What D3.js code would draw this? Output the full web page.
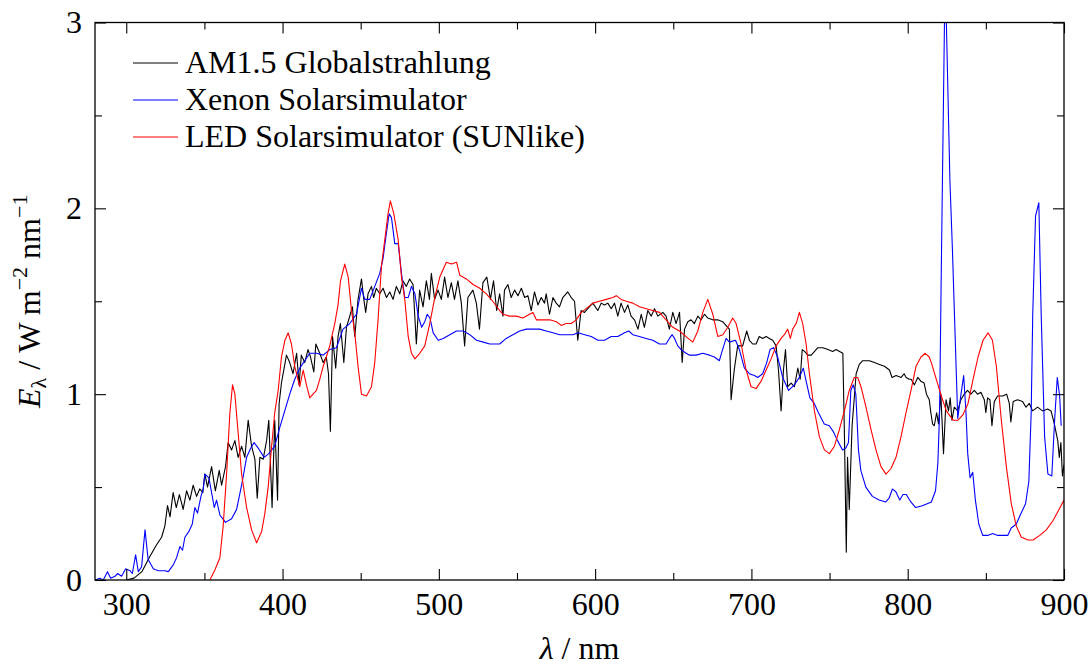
<!DOCTYPE html>
<html>
<head>
<meta charset="utf-8">
<script src="https://cdn.jsdelivr.net/npm/d3@7"></script>
<style>
  body { margin: 0; background: #fff; }
  text { font-family: "Liberation Serif", "Times New Roman", serif; fill: #000; }
</style>
</head>
<body>
<svg id="chart" width="1091" height="666"></svg>
<script>
// wavelength (nm), spectral irradiance (W m^-2 nm^-1)
var am15 = [[300,0],[305,0.01],[310,0.045],[315,0.125],[319.4,0.19],[322.6,0.23],[324.7,0.29],[326.4,0.40],[328,0.34],[330,0.47],[332,0.39],[334,0.46],[336.4,0.38],[338.6,0.48],[340.7,0.43],[342.8,0.51],[345,0.45],[347,0.49],[349,0.47],[350.3,0.57],[352,0.50],[354.6,0.61],[357,0.48],[359.5,0.59],[361,0.51],[363.5,0.61],[365.2,0.74],[367.4,0.70],[369.5,0.75],[371.6,0.66],[373.8,0.72],[375.9,0.66],[378,0.86],[380.2,0.72],[382.3,0.65],[383.8,0.44],[385.5,0.66],[387.6,0.65],[389.8,0.75],[391.2,0.86],[393.3,0.39],[395,0.86],[396.8,0.43],[397.8,0.95],[399.3,1.06],[402.5,1.21],[404.6,1.17],[406.7,1.11],[409,1.22],[410.6,1.05],[412,1.21],[414.2,1.17],[416.3,1.24],[417.9,1.20],[420,1.12],[421.3,1.27],[423.8,1.22],[426,1.17],[428,1.20],[429.4,1.11],[430.6,0.80],[432,1.31],[434,1.14],[435.5,1.31],[437,1.38],[439.2,1.17],[440.9,1.36],[443,1.42],[444.7,1.47],[446.2,1.31],[448.3,1.51],[450.5,1.62],[452,1.51],[453.2,1.44],[454.7,1.54],[456.9,1.58],[458.3,1.52],[460,1.57],[462.2,1.54],[464.3,1.57],[466.5,1.52],[468.6,1.55],[470.7,1.51],[472.8,1.58],[475,1.54],[477,1.61],[479.2,1.58],[481.3,1.62],[483.5,1.59],[485.6,1.27],[487.7,1.56],[489.9,1.47],[492,1.61],[494,1.51],[495.2,1.65],[497.3,1.51],[499.5,1.56],[501.6,1.51],[503.7,1.63],[505.8,1.52],[508,1.60],[510,1.51],[512.2,1.61],[514.4,1.49],[516.5,1.26],[518.6,1.52],[521.8,1.56],[524,1.49],[526,1.35],[528.2,1.60],[530.7,1.63],[533,1.51],[535,1.61],[537,1.45],[538.9,1.54],[541,1.42],[542,1.56],[544.2,1.59],[546.3,1.52],[548.5,1.56],[550.6,1.53],[552.8,1.57],[554.9,1.52],[557,1.53],[559.1,1.45],[561.2,1.55],[563.4,1.48],[565.5,1.52],[567.6,1.49],[568.7,1.54],[570.8,1.43],[573,1.52],[575.1,1.49],[577.2,1.47],[579.3,1.52],[582.5,1.55],[584.7,1.52],[586.8,1.50],[588.9,1.29],[591,1.45],[593.2,1.44],[595.3,1.46],[598.5,1.49],[601.7,1.45],[603.9,1.49],[606,1.48],[608.1,1.49],[610.3,1.46],[612.4,1.49],[614.5,1.42],[616.6,1.49],[618.8,1.44],[620.9,1.48],[623,1.42],[625.2,1.40],[627.4,1.35],[629.5,1.43],[631.5,1.36],[633.7,1.45],[635.9,1.42],[638,1.46],[640.1,1.42],[643.3,1.44],[645.4,1.42],[647.5,1.35],[649.7,1.44],[651.8,1.38],[654,1.44],[655.7,1.17],[657.2,1.35],[659.3,1.39],[661.4,1.40],[663.5,1.38],[665.7,1.42],[667.8,1.40],[670,1.43],[672,1.41],[675.2,1.40],[678.4,1.40],[681.6,1.39],[684.8,1.36],[685.9,1.35],[687,0.97],[689,1.13],[691.2,1.26],[694.4,1.26],[697,1.34],[698.7,1.29],[700.8,1.27],[703,1.27],[705,1.31],[707.2,1.30],[709.4,1.31],[711.5,1.30],[713.6,1.29],[715.8,1.26],[717.3,1.13],[719,0.91],[720.5,1.13],[721.8,1.24],[723.2,1.04],[725.4,1.06],[727.5,1.04],[729.7,1.14],[731.2,1.08],[732.5,1.24],[734,1.23],[736.1,1.21],[738.3,1.21],[740.4,1.23],[742.5,1.25],[745.7,1.25],[748.9,1.24],[752,1.23],[754.2,1.24],[756.4,1.23],[758.5,1.22],[759.6,0.74],[760.7,0.15],[761.5,0.66],[762.6,0.38],[764.4,0.83],[765.9,0.99],[767,1.11],[769,1.16],[771.2,1.18],[775.5,1.18],[778.7,1.17],[781.9,1.16],[785.1,1.15],[788.3,1.13],[790,1.09],[792.6,1.10],[795.8,1.09],[797.7,1.11],[799,1.09],[800.9,1.08],[802.2,1.08],[804.3,1.05],[806.4,1.09],[808.4,1.07],[810.5,1.06],[812,1.00],[813.8,0.97],[814.8,0.90],[815.9,0.84],[817,0.83],[818.5,0.90],[819.7,0.84],[821.2,1.00],[822.9,0.68],[824.5,0.97],[826.1,0.91],[827.2,0.98],[828.3,0.86],[829.8,0.93],[832,0.91],[834,0.97],[836.1,1.00],[838.3,1.02],[840.4,1.00],[842.6,1.02],[844.7,1.00],[846.8,1.01],[849,0.97],[850,0.90],[851.1,0.98],[852.6,0.97],[853.9,0.83],[855.4,0.96],[857.5,0.99],[860.7,0.99],[863.3,1.00],[865,0.95],[866,0.85],[867.5,0.96],[870.3,0.97],[873.5,0.96],[875.7,0.93],[877.8,0.95],[879.9,0.91],[883.1,0.93],[886.3,0.91],[889.5,0.92],[891.7,0.91],[893.8,0.84],[896,0.75],[897,0.66],[898,0.74],[899,0.56],[900,0.62]];

var xenon = [[280,0],[283,0.01],[285.3,0],[288,0.045],[290,0.01],[292.8,0.02],[294.5,0.035],[297,0.02],[299.6,0.06],[302.4,0.05],[303.9,0.035],[306,0.135],[307.7,0.045],[309.8,0.07],[312,0.27],[314,0.11],[317.3,0.06],[320.5,0.05],[324.7,0.05],[326.9,0.045],[330,0.08],[332.2,0.12],[334.3,0.18],[336,0.16],[337.5,0.23],[340,0.26],[342.2,0.30],[343.9,0.39],[345.6,0.36],[347.8,0.45],[349.2,0.49],[350.3,0.57],[352.9,0.55],[354.6,0.47],[356.3,0.39],[357.8,0.43],[359.9,0.35],[363.5,0.31],[367.4,0.33],[370.6,0.38],[373.8,0.51],[377,0.66],[379.7,0.71],[381.8,0.74],[384.4,0.71],[388.2,0.66],[391.2,0.68],[395,0.72],[398.2,0.82],[401.4,0.91],[404.6,1.00],[407.8,1.08],[411,1.14],[414.2,1.18],[417.4,1.22],[421.7,1.22],[426,1.21],[430.2,1.24],[434.5,1.25],[438.7,1.35],[443,1.38],[447.3,1.43],[450.5,1.57],[452.6,1.51],[455.8,1.51],[459,1.58],[462.2,1.65],[464.3,1.73],[466.5,1.87],[468.2,1.97],[469.7,1.95],[471.8,1.81],[474,1.81],[476.1,1.65],[478.2,1.52],[480.4,1.52],[482.5,1.58],[484.7,1.54],[486.8,1.42],[489,1.36],[491,1.39],[492.6,1.43],[494.3,1.41],[496.4,1.33],[499.6,1.29],[502.8,1.30],[507,1.32],[511.3,1.34],[515.6,1.34],[519.8,1.32],[524.1,1.29],[528.4,1.28],[532.6,1.27],[538.9,1.27],[543.1,1.30],[547.4,1.32],[551.7,1.34],[556,1.35],[560.2,1.35],[564.5,1.35],[568.8,1.34],[573,1.33],[577.3,1.32],[581.5,1.32],[585.8,1.32],[589,1.33],[593.3,1.32],[597.5,1.31],[601.8,1.29],[606,1.29],[610.3,1.31],[614.5,1.31],[618.8,1.33],[621.5,1.34],[624.1,1.32],[628.3,1.31],[632.6,1.30],[636.9,1.29],[641.1,1.27],[645.4,1.27],[647.5,1.30],[649.3,1.32],[650.8,1.30],[652.9,1.26],[655,1.24],[658.2,1.22],[660.4,1.21],[664.6,1.21],[668.9,1.22],[673.2,1.21],[676.3,1.20],[679.5,1.18],[681.2,1.23],[683.8,1.30],[685.9,1.28],[689.8,1.29],[692.3,1.24],[695.5,1.14],[698.7,1.11],[701.9,1.10],[704,1.09],[707.2,1.11],[709.8,1.17],[711.9,1.24],[714.2,1.25],[716.8,1.20],[720,1.09],[723.8,1.02],[727.5,1.05],[730.6,1.09],[733.2,1.14],[735.3,1.06],[737.4,0.98],[740.2,0.95],[742.9,0.90],[746.6,0.84],[749.8,0.83],[752.3,0.80],[755.1,0.75],[758.3,0.70],[760.4,0.71],[762.1,0.74],[763.6,1.02],[765.1,1.05],[766.8,1.00],[768.5,0.70],[770,0.59],[773.2,0.50],[777.4,0.45],[781.7,0.43],[786,0.42],[788.1,0.44],[790.2,0.49],[792.4,0.475],[794.9,0.43],[797,0.46],[799.1,0.46],[802,0.42],[805.1,0.39],[809.4,0.40],[815.1,0.42],[817.8,0.48],[819.3,0.63],[820.4,0.90],[821.4,1.61],[823.6,3.05],[824.6,3.05],[827,2.15],[828.6,1.78],[832,0.87],[834.1,1.00],[835.8,1.10],[837.3,0.90],[838.4,0.68],[839.9,0.55],[841.6,0.58],[843.3,0.43],[845.5,0.30],[848,0.24],[851.2,0.24],[854.4,0.25],[857.6,0.24],[860.8,0.24],[864,0.24],[866.2,0.28],[869.4,0.30],[872.6,0.36],[875.4,0.41],[877.5,0.53],[879,0.90],[880,1.43],[881.8,1.96],[883.9,2.03],[885.4,1.43],[887.6,0.77],[889.7,0.57],[892.2,0.56],[894,0.86],[895.7,1.09],[897.2,0.99],[898.2,0.83]];

var led = [[353.5,0],[356.7,0.054],[359.9,0.12],[362,0.29],[364.2,0.57],[366.3,0.90],[368,1.05],[369.5,1.00],[371.2,0.83],[373.8,0.57],[377,0.39],[380.2,0.27],[383.4,0.20],[386.6,0.26],[388.7,0.36],[390.8,0.50],[393,0.72],[395,0.90],[397.2,1.02],[399.3,1.20],[401.5,1.29],[403.6,1.33],[405.7,1.27],[407.8,1.15],[411,1.04],[413.2,1.13],[415.3,1.05],[417.4,0.98],[419.5,1.00],[421.7,1.02],[423.8,1.08],[426,1.15],[428,1.20],[430.2,1.26],[433.4,1.38],[435.5,1.48],[437.1,1.61],[439.8,1.70],[442,1.63],[444.1,1.45],[446.2,1.33],[448.3,1.15],[450.5,1.00],[453.7,0.99],[456.9,1.04],[459,1.17],[461.1,1.40],[463.3,1.69],[465.4,1.83],[467.5,1.97],[469,2.04],[471.2,1.97],[474,1.83],[476.1,1.63],[478.2,1.51],[480.4,1.31],[482.5,1.22],[484.7,1.19],[487.8,1.22],[491,1.26],[494.2,1.38],[497.4,1.52],[500.6,1.63],[504.8,1.71],[508,1.70],[511.3,1.71],[513.4,1.64],[517.6,1.62],[521.9,1.59],[526.2,1.57],[530.4,1.54],[534.5,1.50],[538.9,1.45],[541,1.43],[545.3,1.42],[549.6,1.42],[553.8,1.41],[558.1,1.43],[560.2,1.44],[562.4,1.40],[566.6,1.40],[570.9,1.40],[575.2,1.39],[578.3,1.37],[581.5,1.38],[584.7,1.38],[587.9,1.40],[591.1,1.44],[594.3,1.46],[598.5,1.49],[602.8,1.50],[607.1,1.51],[611.3,1.52],[613.5,1.53],[616.7,1.51],[619.9,1.50],[624.1,1.49],[628.4,1.47],[632.7,1.46],[636.9,1.45],[641.2,1.44],[645.4,1.40],[649.7,1.36],[654,1.34],[658.2,1.31],[662.5,1.28],[665.7,1.34],[668.9,1.44],[672.1,1.51],[675.3,1.43],[678.5,1.31],[681.7,1.32],[684.9,1.36],[688,1.41],[690.2,1.38],[693.4,1.27],[696.6,1.13],[699.8,1.04],[703,1.03],[706.2,1.07],[709.4,1.13],[712.6,1.19],[715.8,1.26],[719,1.30],[721.1,1.32],[723.2,1.35],[724.9,1.30],[726.4,1.35],[728.6,1.38],[730.7,1.44],[732.8,1.38],[735,1.27],[737.1,1.11],[740.3,0.91],[743.5,0.77],[746.7,0.70],[749.9,0.68],[753.1,0.72],[756.3,0.81],[759.5,0.91],[762.6,1.02],[765.8,1.09],[768,1.09],[770.1,1.04],[773.3,0.93],[776.5,0.81],[779.7,0.70],[782.9,0.61],[786.1,0.57],[789.3,0.60],[792.5,0.66],[795.7,0.77],[798.9,0.90],[802.1,1.02],[805.3,1.15],[808.5,1.20],[811.2,1.22],[813.8,1.20],[815.1,1.17],[818.3,1.08],[821.5,0.99],[824.7,0.91],[829,0.86],[832.2,0.86],[835.4,0.89],[838.6,0.95],[841.8,1.08],[845,1.20],[848.2,1.29],[851.4,1.33],[854.2,1.29],[856.7,1.15],[859.9,0.86],[863.1,0.61],[866.3,0.41],[869.5,0.29],[872.7,0.23],[877,0.215],[880.2,0.215],[884.5,0.24],[888.7,0.27],[893,0.32],[896.2,0.37],[900,0.43]];

var seriesNames = ["AM1.5 Globalstrahlung", "Xenon Solarsimulator", "LED Solarsimulator (SUNlike)"];
var seriesColors = ["#000000", "#0000ff", "#ff0000"];

var xMajor = [300,400,500,600,700,800,900];
var xMinor = [350,450,550,650,750,850];
var yMajor = [0,1,2,3];
var yMinor = [0.5,1.5,2.5];

const svg = d3.select("#chart");
var plotL = 95, plotR = 1064, plotT = 22.5, plotB = 580;
var fontSize = "32px";

var x = d3.scaleLinear().domain([280,900]).range([plotL,plotR]);
var y = d3.scaleLinear().domain([0,3]).range([plotB,plotT]);

svg.append("clipPath").attr("id","plotClip")
	.append("rect")
	.attr("x",plotL).attr("y",plotT)
	.attr("width",plotR-plotL).attr("height",plotB-plotT);

var line = d3.line()
	.x(function(d){return x(d[0]);})
	.y(function(d){return y(d[1]);});

var plot = svg.append("g").attr("clip-path","url(#plotClip)");
[am15, xenon, led].forEach(function(s,i){
	plot.append("path")
	.datum(s)
	.attr("d",line)
	.attr("fill","none")
	.attr("stroke",seriesColors[i])
	.attr("stroke-width",1.1)
	.attr("stroke-linejoin","round");
});

// axes, ticks pointing inwards on all four sides
function styleAxis(g){
	g.select(".domain").remove();
	g.selectAll(".tick line").attr("stroke","#000").attr("stroke-width",1.1);
	g.selectAll("text").style("font-size",fontSize).attr("fill","#000");
}

svg.append("g")
	.attr("transform","translate(0,"+plotB+")")
	.call(d3.axisBottom(x).tickValues(xMajor).tickSize(-11).tickPadding(12).tickFormat(d3.format("d")))
	.call(styleAxis);
svg.append("g")
	.attr("transform","translate(0,"+plotB+")")
	.call(d3.axisBottom(x).tickValues(xMinor).tickSize(-7).tickFormat(""))
	.call(styleAxis);
svg.append("g")
	.attr("transform","translate(0,"+plotT+")")
	.call(d3.axisTop(x).tickValues(xMajor).tickSize(-11).tickFormat(""))
	.call(styleAxis);
svg.append("g")
	.attr("transform","translate(0,"+plotT+")")
	.call(d3.axisTop(x).tickValues(xMinor).tickSize(-7).tickFormat(""))
	.call(styleAxis);

svg.append("g")
	.attr("transform","translate("+plotL+",0)")
	.call(d3.axisLeft(y).tickValues(yMajor).tickSize(-11).tickPadding(13).tickFormat(d3.format("d")))
	.call(styleAxis);
svg.append("g")
	.attr("transform","translate("+plotL+",0)")
	.call(d3.axisLeft(y).tickValues(yMinor).tickSize(-7).tickFormat(""))
	.call(styleAxis);
svg.append("g")
	.attr("transform","translate("+plotR+",0)")
	.call(d3.axisRight(y).tickValues(yMajor).tickSize(-11).tickFormat(""))
	.call(styleAxis);
svg.append("g")
	.attr("transform","translate("+plotR+",0)")
	.call(d3.axisRight(y).tickValues(yMinor).tickSize(-7).tickFormat(""))
	.call(styleAxis);

svg.append("rect")
	.attr("x",plotL).attr("y",plotT)
	.attr("width",plotR-plotL).attr("height",plotB-plotT)
	.attr("fill","none")
	.attr("stroke","#000")
	.attr("stroke-width",1.3);

// legend
var legend = svg.append("g").attr("transform","translate(133,63)");
seriesNames.forEach(function(name,i){
	var row = legend.append("g").attr("transform","translate(0,"+(i*37)+")");
	row.append("line")
	.attr("x1",0).attr("x2",45)
	.attr("y1",0).attr("y2",0)
	.attr("stroke",seriesColors[i])
	.attr("stroke-width",1.1);
	row.append("text")
	.attr("x",52).attr("y",10)
	.style("font-size",fontSize)
	.text(name);
});

// axis titles
var xt = svg.append("text")
	.attr("x",(plotL+plotR)/2).attr("y",659)
	.attr("text-anchor","middle")
	.style("font-size",fontSize);
xt.append("tspan").style("font-style","italic").text("λ");
xt.append("tspan").text(" / nm");

var yt = svg.append("text")
	.attr("transform","translate(40,"+((plotT+plotB)/2)+") rotate(-90)")
	.attr("text-anchor","middle")
	.style("font-size",fontSize);
yt.append("tspan").style("font-style","italic").text("E");
yt.append("tspan").attr("dy",6).style("font-size","22px").text("λ");
yt.append("tspan").attr("dy",-6).text(" / W m");
yt.append("tspan").attr("dy",-13).style("font-size","22px").text("−2");
yt.append("tspan").attr("dy",13).text(" nm");
yt.append("tspan").attr("dy",-13).style("font-size","22px").text("−1");
</script>
</body>
</html>
